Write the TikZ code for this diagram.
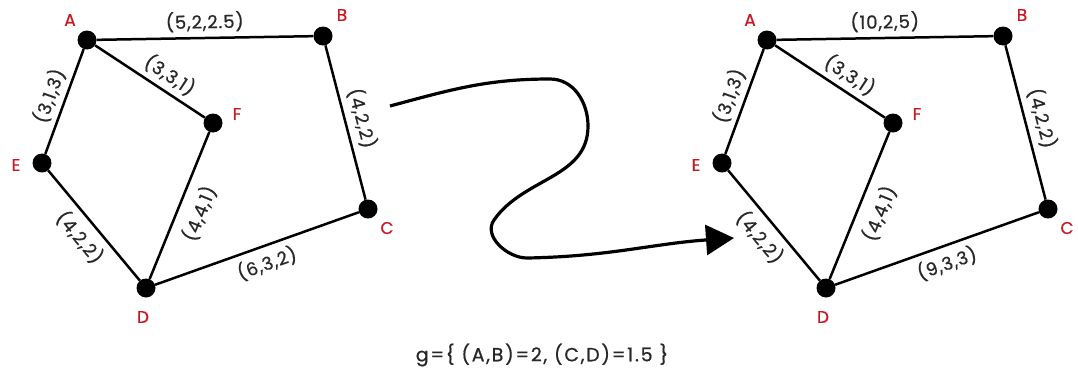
\documentclass[tikz,border=0pt]{standalone}
\usepackage{fontspec}
\setmainfont{Poppins}[FakeBold=0.7]
\newfontfamily\spfont{Poppins}[LetterSpace=5,FakeBold=0.7]
\newfontfamily\capfont{Poppins}[LetterSpace=9,FakeBold=0.7]
\usetikzlibrary{arrows.meta}
\definecolor{vred}{RGB}{200,25,35}
\definecolor{etxt}{RGB}{40,40,40}
\begin{document}
\begin{tikzpicture}[x=1pt,y=-1pt,
  dot/.style={circle,fill=black,inner sep=0pt,minimum size=19pt},
  vlab/.style={text=vred,font=\fontsize{17}{17}\selectfont},
  elab/.style={text=etxt,font=\spfont\fontsize{18}{18}\selectfont,sloped,inner sep=3pt},
  edge/.style={line width=2.5pt,black}]
\useasboundingbox (0,0) rectangle (1078,378);
% ---------- left graph ----------
\node[dot] (A) at (87,40) {};
\node[dot] (B) at (323,36) {};
\node[dot] (F) at (213,123) {};
\node[dot] (E) at (42,163) {};
\node[dot] (C) at (368,209) {};
\node[dot] (D) at (146,288) {};
\node[vlab] (lA) at (70,20) {A};
\node[vlab] (lB) at (342,15) {B};
\node[vlab] (lF) at (237,114) {F};
\node[vlab] (lE) at (16,165) {E};
\node[vlab] (lC) at (387,228) {C};
\node[vlab] (lD) at (143,317) {D};
\draw[edge] (A) -- node[elab,above=2pt] {(5,2,2.5)} (B);
\draw[edge] (A) -- node[elab,above=2pt,pos=0.6] {(3,3,1)} (F);
\draw[edge] (E) -- node[elab,above=2pt] {(3,1,3)} (A);
\draw[edge] (B) -- node[elab,above=3pt] {(4,2,2)} (C);
\draw[edge] (D) -- node[elab,below=7pt] {(4,4,1)} (F);
\draw[edge] (E) -- node[elab,below=4pt] {(4,2,2)} (D);
\draw[edge] (D) -- node[elab,below=3pt,pos=0.52] {(6,3,2)} (C);
% ---------- right graph ----------
\node[dot] (A2) at (767,40) {};
\node[dot] (B2) at (1003,36) {};
\node[dot] (F2) at (893,123) {};
\node[dot] (E2) at (722,163) {};
\node[dot] (C2) at (1048,209) {};
\node[dot] (D2) at (826,288) {};
\node[vlab] (lA2) at (750,20) {A};
\node[vlab] (lB2) at (1022,15) {B};
\node[vlab] (lF2) at (917,114) {F};
\node[vlab] (lE2) at (696,165) {E};
\node[vlab] (lC2) at (1067,228) {C};
\node[vlab] (lD2) at (823,317) {D};
\draw[edge] (A2) -- node[elab,above=2pt] {(10,2,5)} (B2);
\draw[edge] (A2) -- node[elab,above=2pt,pos=0.6] {(3,3,1)} (F2);
\draw[edge] (E2) -- node[elab,above=2pt] {(3,1,3)} (A2);
\draw[edge] (B2) -- node[elab,above=3pt] {(4,2,2)} (C2);
\draw[edge] (D2) -- node[elab,below=7pt] {(4,4,1)} (F2);
\draw[edge] (E2) -- node[elab,below=4pt] {(4,2,2)} (D2);
\draw[edge] (D2) -- node[elab,below=3pt,pos=0.52] {(9,3,3)} (C2);
% ---------- transformation arrow ----------
\coordinate (s) at (390,106);
\coordinate (t) at (734,238);
\draw[line width=3.2pt,-{Triangle[length=28pt,width=30pt]}]
  (s) to[out=15,in=180] (550,79) to[out=0,in=90] (588,126)
      to[out=-90,in=55] (494,220)
      to[out=-125,in=180] (527,258) to[out=1,in=184] (t);
% ---------- caption ----------
\node[text=etxt,font=\capfont\fontsize{19}{19}\selectfont] (cap) at (542,355) {g=\{ (A,B)=2, (C,D)=1.5 \}};
\end{tikzpicture}
\end{document}
